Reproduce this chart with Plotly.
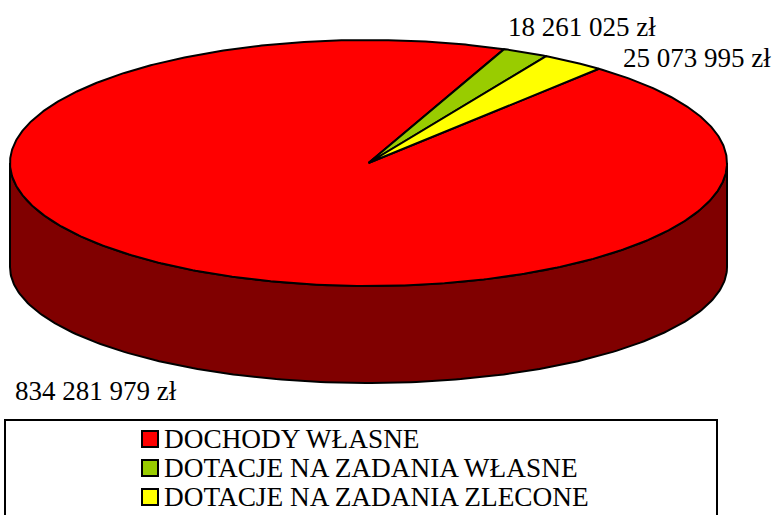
import numpy as np
import plotly.graph_objects as go

categories = ["DOCHODY WŁASNE", "DOTACJE NA ZADANIA WŁASNE", "DOTACJE NA ZADANIA ZLECONE"]
values = [834281979, 18261025, 25073995]
colors = ["#FF0000", "#99CC00", "#FFFF00"]
side_color = "#800000"

FONT = "'Liberation Serif', 'Times New Roman', Times, serif"

# geometry of the tilted pie (layout, in pixel-like axis units)
CX, CY = 368.5, 163.0
A, B = 358.5, 123.0
CY_BOT, B_BOT = 267.0, 116.0
START_DEG = 40.0  # first slice angle, clockwise from 12 o'clock

def rim(t_deg, cy=CY, b=B):
    t = np.radians(t_deg)
    return CX + A * np.sin(t), cy - b * np.cos(t)

def fmt(v):
    return f"{v:,}".replace(",", " ") + " zł"

fig = go.Figure()

# front side (visible from 90 to 270 degrees)
t_top = np.linspace(90, 270, 200)
t_bot = t_top[::-1]
xs1, ys1 = rim(t_top)
xs2, ys2 = rim(t_bot, CY_BOT, B_BOT)
fig.add_trace(go.Scatter(
    x=np.concatenate([xs1, xs2, xs1[:1]]), y=np.concatenate([ys1, ys2, ys1[:1]]),
    mode="lines", fill="toself", fillcolor=side_color,
    line=dict(color="black", width=2), showlegend=False, hoverinfo="skip"))

# top face slices
total = sum(values)
ang = START_DEG
for cat, val, col in zip(categories, values, colors):
    span = 360.0 * val / total
    ts = np.linspace(ang, ang + span, max(int(span * 2), 8))
    xr, yr = rim(ts)
    fig.add_trace(go.Scatter(
        x=np.concatenate([[CX], xr, [CX]]), y=np.concatenate([[CY], yr, [CY]]),
        mode="lines", fill="toself", fillcolor=col,
        line=dict(color="black", width=2), showlegend=False, name=cat,
        hoverinfo="name"))
    ang += span

# data labels
label_pos = [(13, 390.5), (506, 26.5), (621, 57.5)]
for val, (lx, ly) in zip(values, label_pos):
    fig.add_annotation(x=lx, y=ly, text=fmt(val), showarrow=False,
                       xanchor="left", yanchor="middle",
                       font=dict(family=FONT, size=27, color="black"))

# legend (custom, inside framed box)
leg_y = [439, 468, 497]
fig.add_trace(go.Scatter(
    x=[150] * len(categories), y=leg_y, mode="markers",
    marker=dict(symbol="square", size=16, color=colors, line=dict(color="black", width=2)),
    showlegend=False, hoverinfo="skip"))
for cat, ly in zip(categories, leg_y):
    fig.add_annotation(x=162, y=ly, text=cat, showarrow=False,
                       xanchor="left", yanchor="middle",
                       font=dict(family=FONT, size=27.3, color="black"))
fig.add_shape(type="rect", x0=5, x1=717, y0=420, y1=530,
              line=dict(color="black", width=2), fillcolor="rgba(0,0,0,0)", layer="below")

fig.update_layout(
    width=773, height=515, autosize=False,
    margin=dict(l=0, r=0, t=0, b=0),
    paper_bgcolor="white", plot_bgcolor="white",
    font=dict(family=FONT),
    xaxis=dict(range=[0, 773], visible=False, fixedrange=True),
    yaxis=dict(range=[515, 0], visible=False, fixedrange=True),
    showlegend=False,
)

fig.write_html("out.html", config={"displayModeBar": False},
               post_script="document.body.style.margin='0';document.body.style.overflow='hidden';")
